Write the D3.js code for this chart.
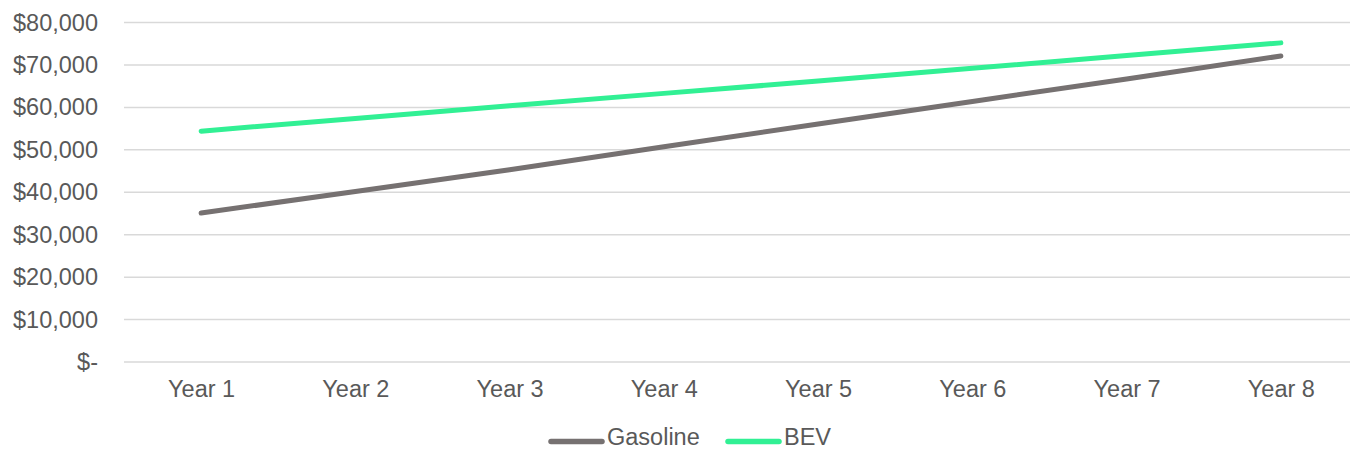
<!DOCTYPE html>
<html>
<head>
<meta charset="utf-8">
<script src="https://cdn.jsdelivr.net/npm/d3@7"></script>
<style>
  body { margin: 0; background: #fff; }
  svg text { font-family: "Liberation Sans", Arial, sans-serif; fill: #595959; }
</style>
</head>
<body>
<svg id="chart" width="1350" height="450"></svg>
<script>
// Cumulative cost of ownership by year
const years = ["Year 1", "Year 2", "Year 3", "Year 4", "Year 5", "Year 6", "Year 7", "Year 8"];
const gasoline = [35100, 40200, 45300, 50700, 56100, 61400, 66700, 72100];
const bev = [54400, 57400, 60400, 63300, 66200, 69200, 72200, 75200];
const yTicks = [0, 10000, 20000, 30000, 40000, 50000, 60000, 70000, 80000];
const yTickLabels = ["$-", "$10,000", "$20,000", "$30,000", "$40,000", "$50,000", "$60,000", "$70,000", "$80,000"];
const seriesNames = ["Gasoline", "BEV"];
const seriesColors = ["#767171", "#31f094"];

const svg = d3.select("#chart");
const plot = { left: 124, right: 1358, top: 22.5, bottom: 362 };
const fontSize = 23.5;

const x = d3.scalePoint().domain(years).range([plot.left, plot.right]).padding(0.5);
const y = d3.scaleLinear().domain([0, 80000]).range([plot.bottom, plot.top]);

// Horizontal gridlines
svg.append("g")
  .selectAll("line")
  .data(yTicks)
  .join("line")
  .attr("x1", plot.left).attr("x2", plot.right)
  .attr("y1", d => y(d)).attr("y2", d => y(d))
  .attr("stroke", "#d9d9d9")
  .attr("stroke-width", 1.5);

// Y axis labels
const yAxis = d3.axisLeft(y).tickValues(yTicks)
  .tickFormat((d, i) => yTickLabels[i]).tickSize(0).tickPadding(0);
svg.append("g")
  .attr("transform", `translate(98,0)`)
  .call(yAxis)
  .call(g => g.select(".domain").remove())
  .selectAll("text")
  .attr("font-size", fontSize)
  .attr("fill", "#595959")
  .attr("font-family", "Liberation Sans, Arial, sans-serif");

// X axis labels
const xAxis = d3.axisBottom(x).tickSize(0).tickPadding(0);
svg.append("g")
  .attr("transform", `translate(0,380)`)
  .call(xAxis)
  .call(g => g.select(".domain").remove())
  .selectAll("text")
  .attr("font-size", fontSize)
  .attr("fill", "#595959")
  .attr("font-family", "Liberation Sans, Arial, sans-serif");

// Series lines
const line = d3.line().x((d, i) => x(years[i])).y(d => y(d));
[gasoline, bev].forEach((vals, k) => {
  svg.append("path")
    .datum(vals)
    .attr("d", line)
    .attr("fill", "none")
    .attr("stroke", seriesColors[k])
    .attr("stroke-width", 5)
    .attr("stroke-linecap", "round")
    .attr("stroke-linejoin", "round");
});

// Legend
const legendItems = [
  { name: seriesNames[0], color: seriesColors[0], x: 551 },
  { name: seriesNames[1], color: seriesColors[1], x: 728 }
];
const lg = svg.append("g");
legendItems.forEach(it => {
  lg.append("line")
    .attr("x1", it.x).attr("x2", it.x + 51)
    .attr("y1", 441.5).attr("y2", 441.5)
    .attr("stroke", it.color)
    .attr("stroke-width", 5.5)
    .attr("stroke-linecap", "round");
  lg.append("text")
    .attr("x", it.x + 56)
    .attr("y", 445)
    .attr("font-size", fontSize)
    .text(it.name);
});
</script>
</body>
</html>
